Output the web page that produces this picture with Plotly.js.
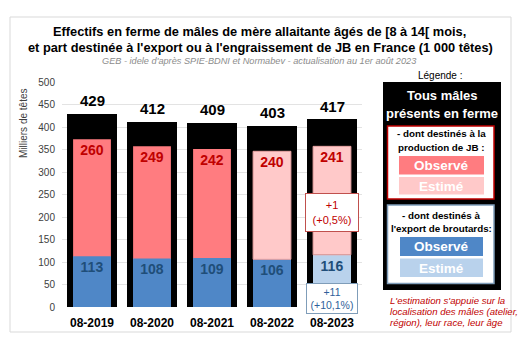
<!DOCTYPE html>
<html><head><meta charset="utf-8">
<script src="https://cdn.plot.ly/plotly-3.0.1.min.js"></script>
<style>html,body{margin:0;padding:0;background:#fff;}#c{width:520px;height:340px;}</style>
</head><body><div id="c"></div>
<script>
var categories = ['08-2019','08-2020','08-2021','08-2022','08-2023'];
var totals = [429, 412, 409, 403, 417];
var jb = [260, 249, 242, 240, 241];
var export_ = [113, 108, 109, 106, 116];
var jbEstimated = [false, false, false, true, true];
var exportEstimated = [false, false, false, false, true];
var changeJB = '+1<br>(+0,5%)';
var changeExport = '+11<br>(+10,1%)';

var F = 'Liberation Sans, Arial, sans-serif';
var RED = '#C00000', BLUE = '#1F4E79';
var PINK_OBS = '#FF7C80', PINK_EST = '#FFC9C9';
var BLUE_OBS = '#4F87C7', BLUE_EST = '#B9D2EC';

// plot area in pixels
var L = 62, R = 362, T = 82, B = 307;
function X(px){ return (px - L) / (R - L); }
function Y(py){ return (B - py) / (B - T); }

var traces = [
  {type:'bar', x:categories, y:totals, width:0.83, marker:{color:'#000000', line:{width:0}},
   hoverinfo:'skip', showlegend:false},
  {type:'bar', x:categories, y:export_, width:0.63,
   marker:{color:exportEstimated.map(function(e){return e?BLUE_EST:BLUE_OBS;}), line:{width:0}},
   text:export_.map(String), textposition:'inside', insidetextanchor:'end', textangle:0,
   constraintext:'none', textfont:{family:F, size:14, color:BLUE, weight:'bold'}, showlegend:false},
  {type:'bar', x:categories, y:jb, base:export_, width:0.63,
   marker:{color:jbEstimated.map(function(e){return e?PINK_EST:PINK_OBS;}),
           line:{width:jbEstimated.map(function(e){return e?1:0;}), color:'#E9A3A3'}},
   text:jb.map(String), textposition:'inside', insidetextanchor:'end', textangle:0,
   constraintext:'none', textfont:{family:F, size:14, color:RED, weight:'bold'}, showlegend:false}
];

var ann = [];
// totals above black bars
categories.forEach(function(c,i){
  ann.push({x:c, y:totals[i], xref:'x', yref:'y', yanchor:'middle', yshift:13, showarrow:false,
            text:'<b>'+totals[i]+'</b>', font:{family:F, size:15, color:'#000'}});
});
// title
ann.push({xref:'paper', yref:'paper', x:X(259), y:Y(32), showarrow:false, xanchor:'center', yanchor:'middle',
  text:'<b>Effectifs en ferme de mâles de mère allaitante âgés de [8 à 14[ mois,</b>', font:{family:F, size:12.8, color:'#000'}});
ann.push({xref:'paper', yref:'paper', x:X(260), y:Y(47), showarrow:false, xanchor:'center', yanchor:'middle',
  text:"<b>et part destinée à l'export ou à l'engraissement de JB en France (1 000 têtes)</b>", font:{family:F, size:12.8, color:'#000'}});
ann.push({xref:'paper', yref:'paper', x:X(259), y:Y(61), showarrow:false, xanchor:'center', yanchor:'middle',
  text:"<i>GEB - idele d'après SPIE-BDNI et Normabev - actualisation au 1er août 2023</i>", font:{family:F, size:9.2, color:'#8C8C8C'}});
// y axis title
ann.push({xref:'paper', yref:'paper', x:X(23), y:Y(124), showarrow:false, textangle:-90, xanchor:'center', yanchor:'middle',
  text:'Milliers de têtes', font:{family:F, size:10, color:'#404040'}});
// change boxes
ann.push({x:categories[4], xref:'x', yref:'paper', y:Y(212), yanchor:'middle', showarrow:false, text:changeJB,
  font:{family:F, size:11, color:RED}, bgcolor:'#fff', bordercolor:'#C0504D', borderwidth:1, borderpad:3, width:46, height:31});
ann.push({x:categories[4], xref:'x', yref:'paper', y:Y(298.5), yanchor:'middle', showarrow:false, text:changeExport,
  font:{family:F, size:10.5, color:'#2E5F9A'}, bgcolor:'#fff', bordercolor:'#7F9DB9', borderwidth:1, borderpad:2, width:46, height:25});

// legend
var shapes = [
  {type:'rect', xref:'paper', yref:'paper', x0:X(10), x1:X(511), y0:Y(17), y1:Y(332), line:{color:'#D9D9D9', width:1}, layer:'below'},
  {type:'rect', xref:'paper', yref:'paper', x0:X(383), x1:X(501), y0:Y(82), y1:Y(290), fillcolor:'#000', line:{width:0}},
  {type:'rect', xref:'paper', yref:'paper', x0:X(387.5), x1:X(494), y0:Y(126), y1:Y(199), fillcolor:'#fff', line:{color:'#C00000', width:1.5}},
  {type:'rect', xref:'paper', yref:'paper', x0:X(399), x1:X(484), y0:Y(156), y1:Y(174.5), fillcolor:PINK_OBS, line:{width:0}},
  {type:'rect', xref:'paper', yref:'paper', x0:X(399), x1:X(484), y0:Y(177), y1:Y(194.5), fillcolor:PINK_EST, line:{width:0}},
  {type:'rect', xref:'paper', yref:'paper', x0:X(387.5), x1:X(494), y0:Y(205), y1:Y(283.5), fillcolor:'#fff', line:{color:'#7F9DB9', width:1.5}},
  {type:'rect', xref:'paper', yref:'paper', x0:X(400), x1:X(483), y0:Y(237), y1:Y(256), fillcolor:BLUE_OBS, line:{width:0}},
  {type:'rect', xref:'paper', yref:'paper', x0:X(400), x1:X(483), y0:Y(258.5), y1:Y(277), fillcolor:BLUE_EST, line:{width:0}}
];
function lt(px, py, text, size, color){
  ann.push({xref:'paper', yref:'paper', x:X(px), y:Y(py), showarrow:false, xanchor:'center', yanchor:'middle',
    text:text, font:{family:F, size:size, color:color}});
}
lt(440, 75, 'Légende :', 10, '#000');
lt(442, 95, '<b>Tous mâles</b>', 13, '#fff');
lt(442, 113, '<b>présents en ferme</b>', 13, '#fff');
lt(441, 133, '<b>- dont destinés à la</b>', 9.8, '#000');
lt(441, 147, '<b>production de JB :</b>', 9.8, '#000');
lt(441.5, 165, '<b>Observé</b>', 13.5, '#fff');
lt(441.5, 186, '<b>Estimé</b>', 13.5, '#fff');
lt(441, 215, '<b>- dont destinés à</b>', 9.8, '#000');
lt(441, 228, "<b>l'export de broutards:</b>", 9.8, '#000');
lt(441.5, 246.5, '<b>Observé</b>', 13.5, '#fff');
lt(441.5, 268, '<b>Estimé</b>', 13.5, '#fff');
[["L'estimation s'appuie sur la", 300], ["localisation des mâles (atelier,", 311], ["région), leur race, leur âge", 322]].forEach(function(r){
  ann.push({xref:'paper', yref:'paper', x:X(388), y:Y(r[1]), showarrow:false, xanchor:'left', yanchor:'middle',
    text:'<i>'+r[0]+'</i>', font:{family:F, size:9.6, color:'#C00000'}});
});

var layout = {
  width:520, height:340, margin:{l:L, r:520-R, t:T, b:340-B, pad:0},
  paper_bgcolor:'#fff', plot_bgcolor:'#fff', barmode:'overlay', bargap:0,
  xaxis:{type:'category', range:[-0.5, 4.5], showgrid:false, zeroline:false, showline:false, ticks:'',
         tickfont:{family:F, size:12, color:'#000', weight:'bold'}, ticklabelstandoff:7, fixedrange:true},
  yaxis:{range:[0,500], dtick:50, showgrid:true, gridcolor:'#E3E3E3', gridwidth:1, zeroline:false, showline:false,
         ticks:'', tickfont:{family:F, size:10, color:'#404040'}, ticklabelstandoff:6, fixedrange:true},
  annotations:ann, shapes:shapes, showlegend:false
};
Plotly.newPlot('c', traces, layout, {displayModeBar:false, staticPlot:true});
</script></body></html>
